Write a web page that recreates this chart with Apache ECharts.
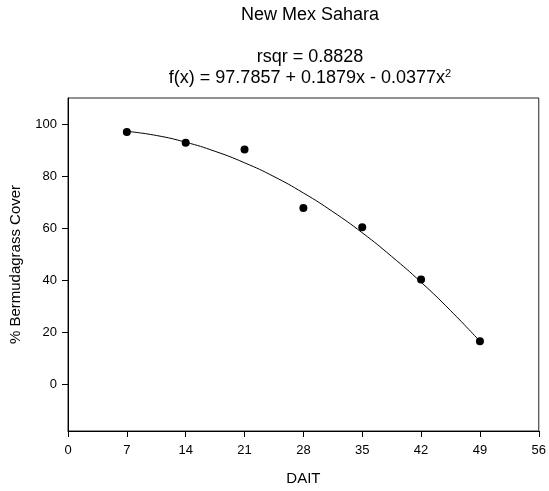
<!DOCTYPE html>
<html><head><meta charset="utf-8">
<script src="https://cdn.jsdelivr.net/npm/echarts@6/dist/echarts.min.js"></script>
<style>html,body{margin:0;padding:0;background:#fff}#c{width:549px;height:491px}</style>
</head><body><div id="c"></div>
<script>
const daitValues = [7, 14, 21, 28, 35, 42, 49];
const coverValues = [96.9, 92.8, 90.2, 67.7, 60.3, 40.2, 16.5];
const fitX = [7, 10.5, 14, 17.5, 21, 24.5, 28, 31.5, 35, 38.5, 42, 45.5, 49];
const fitY = [97.2, 95.6, 93.0, 89.5, 85.1, 79.8, 73.5, 66.3, 58.2, 49.1, 39.2, 28.3, 16.5];
const xTicks = [0, 7, 14, 21, 28, 35, 42, 49, 56];
const yTicks = [0, 20, 40, 60, 80, 100];

const chart = echarts.init(document.getElementById('c'), null, {renderer: 'canvas'});
const font = 'Liberation Sans, Arial, sans-serif';
chart.setOption({
  animation: false,
  backgroundColor: '#fff',
  title: [
    {text: 'New Mex Sahara', left: 305, top: 1, textAlign: 'center',
     textStyle: {fontFamily: font, fontSize: 18, fontWeight: 'normal', color: '#000'}},
    {text: 'rsqr = 0.8828', left: 305, top: 43, textAlign: 'center',
     textStyle: {fontFamily: font, fontSize: 18, fontWeight: 'normal', color: '#000'}},
    {text: '{a|f(x) = 97.7857 + 0.1879x - 0.0377x}{s|2}', left: 305, top: 63, textAlign: 'center',
     textStyle: {fontFamily: font, fontSize: 18, fontWeight: 'normal', color: '#000',
       rich: {a: {fontFamily: font, fontSize: 18, lineHeight: 20, fontWeight: 'normal', color: '#000'},
              s: {fontFamily: font, fontSize: 11, lineHeight: 20, fontWeight: 'normal', color: '#000', verticalAlign: 'top', padding: [0,0,9,0]}}}}
  ],
  grid: {left: 68, right: 7, top: 98, bottom: 60, show: true, borderColor: '#222', borderWidth: 1, backgroundColor: 'transparent'},
  xAxis: {
    type: 'value', min: 0, max: 56, interval: 7,
    name: 'DAIT', nameLocation: 'middle', nameGap: 40,
    nameTextStyle: {fontFamily: font, fontSize: 15, color: '#000'},
    axisLine: {show: true, onZero: false, lineStyle: {color: '#000', width: 1}},
    axisTick: {show: true, length: 6, lineStyle: {color: '#000'}, customValues: xTicks},
    axisLabel: {fontFamily: font, fontSize: 13, color: '#000', margin: 13, customValues: xTicks, showMaxLabel: true},
    splitLine: {show: false}
  },
  yAxis: {
    type: 'value', min: -18, max: 110,
    name: '% Bermudagrass Cover', nameLocation: 'middle', nameGap: 45,
    nameTextStyle: {fontFamily: font, fontSize: 15, color: '#000'},
    axisLine: {show: true, onZero: false, lineStyle: {color: '#000', width: 1}},
    axisTick: {show: true, length: 6, lineStyle: {color: '#000'}, customValues: yTicks},
    axisLabel: {fontFamily: font, fontSize: 13, color: '#000', margin: 11, customValues: yTicks},
    splitLine: {show: false}
  },
  series: [
    {type: 'line', data: fitX.map((x, i) => [x, fitY[i]]), smooth: true, showSymbol: false,
     lineStyle: {color: '#000', width: 1}, silent: true},
    {type: 'scatter', data: daitValues.map((x, i) => [x, coverValues[i]]), symbolSize: 8,
     itemStyle: {color: '#000', opacity: 1}}
  ]
});
</script></body></html>
